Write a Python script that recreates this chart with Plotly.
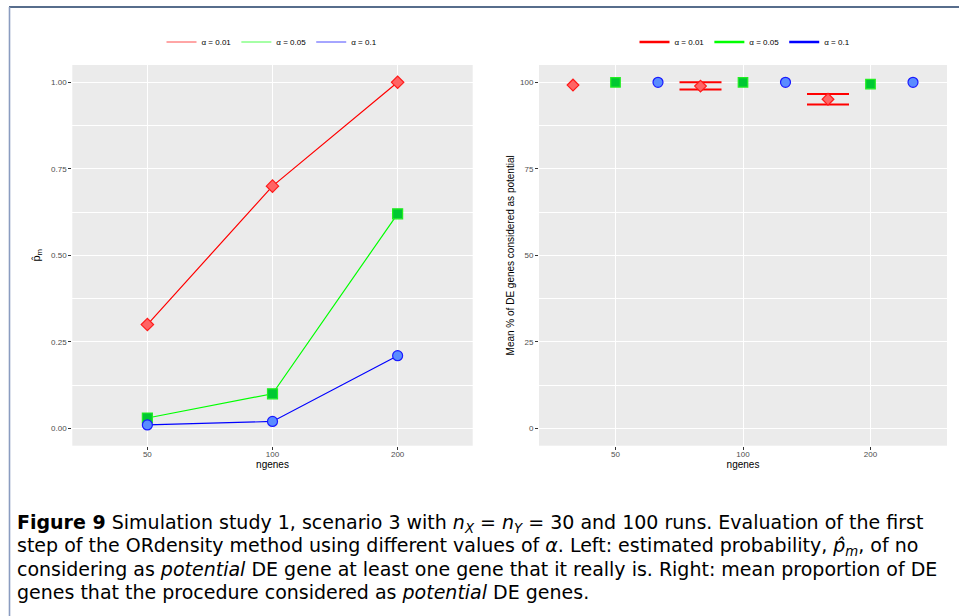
import plotly.graph_objects as go

W, H = 959, 616

# ---- data ----
ngenes = ["50", "100", "200"]
alpha_labels = ["α = 0.01", "α = 0.05", "α = 0.1"]

# left panel: estimated probability p_hat_m
p_m_001 = [0.30, 0.70, 1.00]
p_m_005 = [0.03, 0.10, 0.62]
p_m_01 = [0.01, 0.02, 0.21]

# right panel: mean % of DE genes considered as potential
mean_001 = [99.2, 98.9, 95.1]
mean_005 = [100.0, 100.0, 99.5]
mean_01 = [100.0, 100.0, 100.0]
# error bars (alpha = 0.01 only; None = no visible bar)
err_up_001 = [None, 1.1, 1.5]
err_lo_001 = [None, 1.0, 1.5]

left_vals = [p_m_001, p_m_005, p_m_01]
right_vals = [mean_001, mean_005, mean_01]

line_cols = ["#FF0000", "#00FF00", "#0000FF"]
fill_cols = ["#FF6464", "#00C832", "#5A8CFF"]
edge_cols = ["#FF1A1A", "#22EE22", "#1A1AFF"]
symbols = ["diamond", "square", "circle"]
msizes = [9.5, 10, 10]

def px_x(p):
    return p / W

def px_y(p):
    return 1 - p / H

fig = go.Figure()

# left panel traces
for i in range(3):
    fig.add_trace(go.Scatter(
        x=ngenes, y=left_vals[i], mode="lines+markers",
        line=dict(color=line_cols[i], width=1.2),
        marker=dict(symbol=symbols[i], size=msizes[i], color=fill_cols[i],
                    line=dict(color=edge_cols[i], width=1.2)),
        offsetgroup="L", alignmentgroup="L",
        xaxis="x", yaxis="y", showlegend=False, name=alpha_labels[i]))
    # legend key (line only)
    fig.add_trace(go.Scatter(
        x=[None], y=[None], mode="lines", name=alpha_labels[i],
        line=dict(color=line_cols[i], width=1), opacity=0.7,
        xaxis="x", yaxis="y", legend="legend"))

# right panel: error bars for alpha = 0.01 (drawn first, behind markers)
idx = [k for k, v in enumerate(err_up_001) if v is not None]
fig.add_trace(go.Scatter(
    x=[ngenes[k] for k in idx], y=[mean_001[k] for k in idx], mode="markers",
    marker=dict(size=1, opacity=0),
    error_y=dict(type="data", symmetric=False,
                 array=[err_up_001[k] for k in idx],
                 arrayminus=[err_lo_001[k] for k in idx],
                 color=line_cols[0], thickness=2, width=21),
    offsetgroup="R0", alignmentgroup="R", hoverinfo="skip",
    xaxis="x2", yaxis="y2", showlegend=False, name=alpha_labels[0]))

# right panel traces (dodged)
for i in range(3):
    fig.add_trace(go.Scatter(
        x=ngenes, y=right_vals[i], mode="markers",
        marker=dict(symbol=symbols[i], size=[9, 9.5, 10][i], color=fill_cols[i],
                    line=dict(color=edge_cols[i], width=1.2)),
        offsetgroup="R%d" % i, alignmentgroup="R",
        xaxis="x2", yaxis="y2", showlegend=False, name=alpha_labels[i]))
    fig.add_trace(go.Scatter(
        x=[None], y=[None], mode="lines", name=alpha_labels[i],
        line=dict(color=line_cols[i], width=2.5),
        xaxis="x2", yaxis="y2", legend="legend2"))

FF = "Liberation Sans, Arial, sans-serif"
tickfont = dict(family=FF, size=8, color="#4D4D4D")
titlefont = dict(family=FF, size=10, color="#000000")

common_x = dict(type="category", range=[-0.6, 2.6], showgrid=True, gridcolor="#FFFFFF",
                gridwidth=1.4, zeroline=False, showline=False, ticks="outside",
                ticklen=3, tickwidth=0.8, tickcolor="#333333", tickfont=tickfont,
                ticklabelstandoff=-2,
                categoryorder="array", categoryarray=ngenes, fixedrange=True)

fig.update_layout(
    width=W, height=H,
    margin=dict(l=0, r=0, t=0, b=0),
    paper_bgcolor="#FFFFFF",
    plot_bgcolor="#EBEBEB",
    scattermode="group",
    scattergap=0.0,
    xaxis=dict(common_x, domain=[px_x(72.3), px_x(472.7)], anchor="y",
               title=dict(text="ngenes", font=titlefont, standoff=2)),
    xaxis2=dict(common_x, domain=[px_x(539), px_x(947)], anchor="y2",
                title=dict(text="ngenes", font=titlefont, standoff=2)),
    yaxis=dict(domain=[px_y(445.7), px_y(65)], anchor="x", range=[-0.05, 1.05],
               tickvals=[0, 0.25, 0.5, 0.75, 1.0],
               ticktext=["0.00", "0.25", "0.50", "0.75", "1.00"],
               showgrid=True, gridcolor="#FFFFFF", gridwidth=1.4, zeroline=False,
               minor=dict(tickvals=[0.125, 0.375, 0.625, 0.875], showgrid=True,
                          gridcolor="#FFFFFF", gridwidth=0.7, ticks=""),
               ticks="outside", ticklen=3, tickwidth=0.8, tickcolor="#333333",
               tickfont=tickfont, fixedrange=True,
               title=dict(text="p̂<sub>m</sub>", font=dict(titlefont, size=11), standoff=8)),
    yaxis2=dict(domain=[px_y(445.7), px_y(65)], anchor="x2", range=[-5, 105],
                tickvals=[0, 25, 50, 75, 100],
                ticktext=["0", "25", "50", "75", "100"],
                showgrid=True, gridcolor="#FFFFFF", gridwidth=1.4, zeroline=False,
                minor=dict(tickvals=[12.5, 37.5, 62.5, 87.5], showgrid=True,
                           gridcolor="#FFFFFF", gridwidth=0.7, ticks=""),
                ticks="outside", ticklen=3, tickwidth=0.8, tickcolor="#333333",
                tickfont=tickfont, fixedrange=True,
                title=dict(text="Mean % of DE genes considered as potential",
                           font=dict(titlefont, size=10), standoff=3)),
    legend=dict(orientation="h", x=px_x(272), y=px_y(42), xanchor="center",
                yanchor="middle", font=dict(family=FF, size=8, color="#000000"),
                bgcolor="rgba(0,0,0,0)", itemwidth=30, tracegroupgap=0),
    legend2=dict(orientation="h", x=px_x(745), y=px_y(42), xanchor="center",
                 yanchor="middle", font=dict(family=FF, size=8, color="#000000"),
                 bgcolor="rgba(0,0,0,0)", itemwidth=30, tracegroupgap=0),
    showlegend=True,
)

# page frame
fig.add_shape(type="line", xref="paper", yref="paper",
              x0=px_x(9), x1=1, y0=px_y(7), y1=px_y(7),
              line=dict(color="#1F3D66", width=1.6))
fig.add_shape(type="line", xref="paper", yref="paper",
              x0=px_x(9.5), x1=px_x(9.5), y0=px_y(7), y1=0,
              line=dict(color="#8A9CC0", width=1.6))

# caption
capfont = dict(family="DejaVu Sans, sans-serif", size=19, color="#000000")
caption_lines = [
    "<b>Figure 9</b> Simulation study 1, scenario 3 with <i>n</i><sub><i>X</i></sub> = <i>n</i><sub><i>Y</i></sub> = 30 and 100 runs. Evaluation of the first",
    "step of the ORdensity method using different values of <i>α</i>. Left: estimated probability, <i>p̂</i><sub><i>m</i></sub>, of no",
    "considering as <i>potential</i> DE gene at least one gene that it really is. Right: mean proportion of DE",
    "genes that the procedure considered as <i>potential</i> DE genes.",
]
caption_y = [523, 546, 569, 592]
for txt, yy in zip(caption_lines, caption_y):
    fig.add_annotation(text=txt, xref="paper", yref="paper", x=px_x(15), y=px_y(yy),
                       xanchor="left", yanchor="middle", showarrow=False, font=capfont)

fig.write_html("out.html", config={"displayModeBar": False},
               post_script="document.body.style.margin='0';document.body.style.overflow='hidden';")
